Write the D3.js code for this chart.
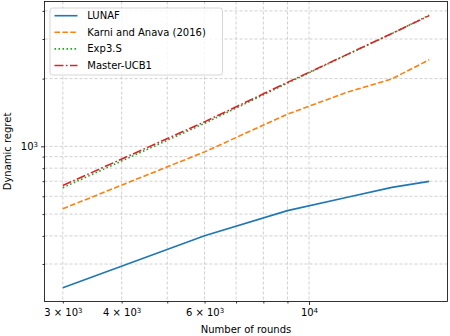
<!DOCTYPE html>
<html>
<head>
<meta charset="utf-8">
<script src="https://cdn.jsdelivr.net/npm/d3@7"></script>
<style>
  body { margin: 0; background: white; }
  text { font-family: "DejaVu Sans", sans-serif; }
</style>
</head>
<body>
<div id="chart"></div>
<script>
// rounds (x) and regret of each method (y)
var rounds = [3000, 6000, 9000, 12000, 15000, 18000];
var lunaf = [235, 401, 518, 592, 657, 699];
var karni = [528, 945, 1390, 1735, 1995, 2425];
var exp3s = [655, 1265, 1910, 2545, 3170, 3830];
var masterUcb = [670, 1285, 1925, 2550, 3175, 3810];

var seriesNames = ["LUNAF", "Karni and Anava (2016)", "Exp3.S", "Master-UCB1"];

// tick positions and labels ([mantissa text, exponent])
var xMajorTicks = [10000];
var xMinorTicks = [3000, 4000, 5000, 6000, 7000, 8000, 9000];
var xTickLabels = { 3000: ["3 × 10", "3"], 4000: ["4 × 10", "3"], 6000: ["6 × 10", "3"], 10000: ["10", "4"] };
var yMajorTicks = [1000];
var yMinorTicks = [300, 400, 500, 600, 700, 800, 900, 2000, 3000, 4000];
var yTickLabels = { 1000: ["10", "3"] };

var width = 450, height = 336;
var mLeft = 44.5, mRight = 447.5, mTop = 1.5, mBottom = 301.5;

var svg = d3.select("#chart").append("svg")
            .attr("width", width)
            .attr("height", height);

// log scales with matplotlib-like 5% margins (in log space)
function padded(lo, hi) {
  var a = Math.log10(lo), b = Math.log10(hi), p = (b - a) * 0.05;
  return [Math.pow(10, a - p), Math.pow(10, b + p)];
}
var allY = lunaf.concat(karni, exp3s, masterUcb);
var x = d3.scaleLog().domain(padded(d3.min(rounds), d3.max(rounds))).range([mLeft, mRight]);
var y = d3.scaleLog().domain(padded(d3.min(allY), d3.max(allY))).range([mBottom, mTop]);

// grid
var grid = svg.append("g").attr("class", "grid");
grid.selectAll("line.gx")
    .data(xMajorTicks.concat(xMinorTicks))
    .enter().append("line")
    .attr("x1", function (d) { return x(d); })
    .attr("x2", function (d) { return x(d); })
    .attr("y1", mTop).attr("y2", mBottom)
    .style("stroke", "#c4c4c4").style("stroke-width", 0.8)
    .style("stroke-dasharray", "3,2");
grid.selectAll("line.gy")
    .data(yMajorTicks.concat(yMinorTicks))
    .enter().append("line")
    .attr("y1", function (d) { return y(d); })
    .attr("y2", function (d) { return y(d); })
    .attr("x1", mLeft).attr("x2", mRight)
    .style("stroke", "#c4c4c4").style("stroke-width", 0.8)
    .style("stroke-dasharray", "3,2");

// series
var seriesData = [lunaf, karni, exp3s, masterUcb];
var colors = ["#1f77b4", "#ff7f0e", "#2ca02c", "#d62728"];
var dashes = [null, "5.5,2.4", "1.6,2.4", "9,2.4,1.6,2.4"];

var line = d3.line()
             .x(function (d) { return x(d[0]); })
             .y(function (d) { return y(d[1]); });

svg.append("g").selectAll("path")
   .data(seriesData)
   .enter().append("path")
   .attr("d", function (d) { return line(d3.zip(rounds, d)); })
   .style("fill", "none")
   .style("stroke", function (d, i) { return colors[i]; })
   .style("stroke-width", 1.6)
   .style("stroke-dasharray", function (d, i) { return dashes[i]; });

// axes
function styleAxis(labels) {
  return function (g) {
    g.select(".domain").remove();
    g.selectAll("line").style("stroke", "#000").style("stroke-width", 0.8);
    g.selectAll("text").style("font-size", "10px").style("fill", "#000")
     .each(function (d) {
       var t = d3.select(this).text("");
       var lab = labels && labels[d];
       if (!lab) return;
       t.append("tspan").text(lab[0]);
       t.append("tspan").attr("dy", "-0.4em").style("font-size", "7px").text(lab[1]);
     });
  };
}

svg.append("g").attr("transform", "translate(0," + mBottom + ")")
   .call(d3.axisBottom(x).tickValues(xMajorTicks).tickSize(3.5).tickPadding(4))
   .call(styleAxis(xTickLabels));
svg.append("g").attr("transform", "translate(0," + mBottom + ")")
   .call(d3.axisBottom(x).tickValues(xMinorTicks).tickSize(2).tickPadding(5.5))
   .call(styleAxis(xTickLabels));
svg.append("g").attr("transform", "translate(" + mLeft + ",0)")
   .call(d3.axisLeft(y).tickValues(yMajorTicks).tickSize(3.5).tickPadding(3))
   .call(styleAxis(yTickLabels));
svg.append("g").attr("transform", "translate(" + mLeft + ",0)")
   .call(d3.axisLeft(y).tickValues(yMinorTicks).tickSize(2))
   .call(styleAxis(null));

// frame
svg.append("rect")
   .attr("x", mLeft).attr("y", mTop)
   .attr("width", mRight - mLeft).attr("height", mBottom - mTop)
   .style("fill", "none").style("stroke", "#000").style("stroke-width", 0.8);

// axis titles
svg.append("text")
   .attr("x", (mLeft + mRight) / 2).attr("y", 333)
   .attr("text-anchor", "middle")
   .style("font-size", "10px")
   .text("Number of rounds");
svg.append("text")
   .attr("transform", "translate(11," + ((mTop + mBottom) / 2) + ") rotate(-90)")
   .attr("text-anchor", "middle")
   .style("font-size", "10px")
   .text("Dynamic regret");

// legend
var legend = svg.append("g").attr("transform", "translate(50,8)");
legend.append("rect")
      .attr("width", 172.5).attr("height", 67)
      .attr("rx", 2.5).attr("ry", 2.5)
      .style("fill", "white").style("fill-opacity", 0.8)
      .style("stroke", "#cccccc").style("stroke-width", 0.8);
var items = legend.selectAll("g.item")
      .data(seriesNames)
      .enter().append("g")
      .attr("transform", function (d, i) { return "translate(0," + (7.7 + i * 16.6) + ")"; });
items.append("line")
     .attr("x1", 4.5).attr("x2", 27.5).attr("y1", 0).attr("y2", 0)
     .style("stroke", function (d, i) { return colors[i]; })
     .style("stroke-width", 1.6)
     .style("stroke-dasharray", function (d, i) { return dashes[i]; });
items.append("text")
     .attr("x", 37.3).attr("y", 0).attr("dy", "0.35em")
     .style("font-size", "10px")
     .text(function (d) { return d; });
</script>
</body>
</html>
